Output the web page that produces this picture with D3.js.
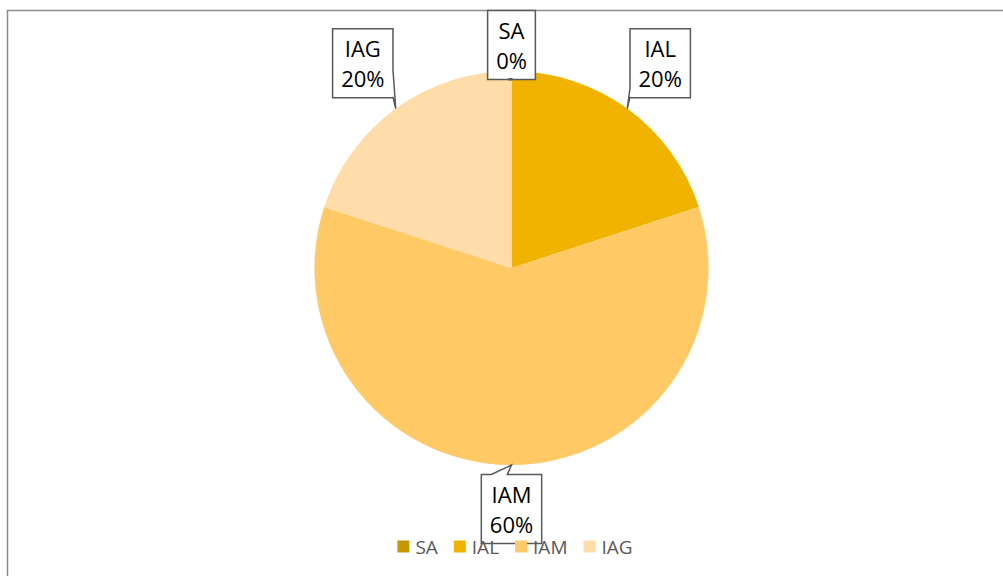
<!DOCTYPE html>
<meta charset="utf-8">
<style>
    body { margin: 0; background: #fff; }
    .label text { font: 22px "Open Sans", sans-serif; fill: #000; }
    .legend text { font: 19px "Open Sans", sans-serif; fill: #595959; }
</style>
<body>
<script src="https://d3js.org/d3.v7.min.js"></script>
<script>

const categories = ["SA", "IAL", "IAM", "IAG"];
const values = [0, 20, 60, 20];
const colors = ["#C79700", "#F0B400", "#FFC966", "#FFDCA8"];

const width = 1003;
const height = 576;
const cx = 511.5, cy = 268, radius = 197;

const svg = d3.select("body").append("svg")
    .attr("width", width)
    .attr("height", height);

// chart frame (runs off the window on the right and bottom)
svg.append("rect")
    .attr("x", 7.5).attr("y", 10.5)
    .attr("width", 1100).attr("height", 700)
    .attr("fill", "none")
    .attr("stroke", "#8c8c8c")
    .attr("stroke-width", 1.5);

const color = d3.scaleOrdinal().domain(categories).range(colors);
const total = d3.sum(values);
const pct = d3.format(".0%");

const data = categories.map((c, i) => ({ name: c, value: values[i] }));
const pie = d3.pie().sort(null).value(d => d.value);
const arcs = pie(data);
const arc = d3.arc().innerRadius(0).outerRadius(radius);

const g = svg.append("g").attr("transform", `translate(${cx},${cy})`);

g.selectAll("path.slice")
    .data(arcs)
    .enter().append("path")
    .attr("class", "slice")
    .attr("d", arc)
    .attr("fill", d => color(d.data.name));

// callout labels
const labelGap = { SA: 26, IAL: 56, IAM: 44, IAG: 56 };
const polar = (a, r) => [Math.sin(a) * r, -Math.cos(a) * r];

const labels = g.selectAll("g.label")
    .data(arcs)
    .enter().append("g")
    .attr("class", "label");

labels.each(function(d) {
    const sel = d3.select(this);
    const mid = (d.startAngle + d.endAngle) / 2;
    const [bx, by] = polar(mid, radius + labelGap[d.data.name]);
    const [tx, ty] = polar(mid, radius);

    const path = sel.append("path");
    const t1 = sel.append("text").attr("text-anchor", "middle")
        .attr("x", bx).attr("y", by - 6).text(d.data.name);
    const t2 = sel.append("text").attr("text-anchor", "middle")
        .attr("x", bx).attr("y", by + 24).text(pct(d.value / total));

    const w = Math.max(t1.node().getComputedTextLength(), t2.node().getComputedTextLength()) + 17;
    const h = 69;
    const l = bx - w / 2, r = bx + w / 2, t = by - h / 2, b = by + h / 2;

    let pts;
    if (tx >= l && tx <= r && ty >= t && ty <= b) {
        pts = [[l, t], [r, t], [r, b], [l, b]];
        sel.append("rect").attr("x", tx - 3).attr("y", b - 1.5)
            .attr("width", 4).attr("height", 2.5).attr("fill", "#595959");
    } else if (ty < t) {
        pts = [[l, t], [l + 10, t], [tx, ty], [l + 26, t], [r, t], [r, b], [l, b]];
    } else if (tx > r) {
        pts = [[l, t], [r, t], [r, b - 28], [tx, ty], [r, b - 1], [r, b], [l, b]];
    } else if (tx < l) {
        pts = [[l, t], [r, t], [r, b], [l, b], [l, b - 1], [tx, ty], [l, b - 10]];
    } else {
        pts = [[l, t], [r, t], [r, b], [bx + 8, b], [tx, ty], [bx - 8, b], [l, b]];
    }
    path.attr("d", d3.line()(pts) + "Z")
        .attr("fill", "#fff")
        .attr("stroke", "#595959")
        .attr("stroke-width", 1.5);
    t1.raise(); t2.raise();
});

// legend
const legend = svg.append("g").attr("class", "legend");
let lx = 0;
categories.forEach((c, i) => {
    const item = legend.append("g").attr("transform", `translate(${lx},0)`);
    item.append("rect")
        .attr("x", 0).attr("y", -6)
        .attr("width", 12).attr("height", 12)
        .attr("fill", color(c));
    const txt = item.append("text")
        .attr("x", 18).attr("y", 7)
        .text(c);
    lx += 18 + txt.node().getComputedTextLength() + 16;
});
const legendW = lx - 16;
legend.attr("transform", `translate(${515 - legendW / 2},546.5)`);

</script>
</body>
</html>
